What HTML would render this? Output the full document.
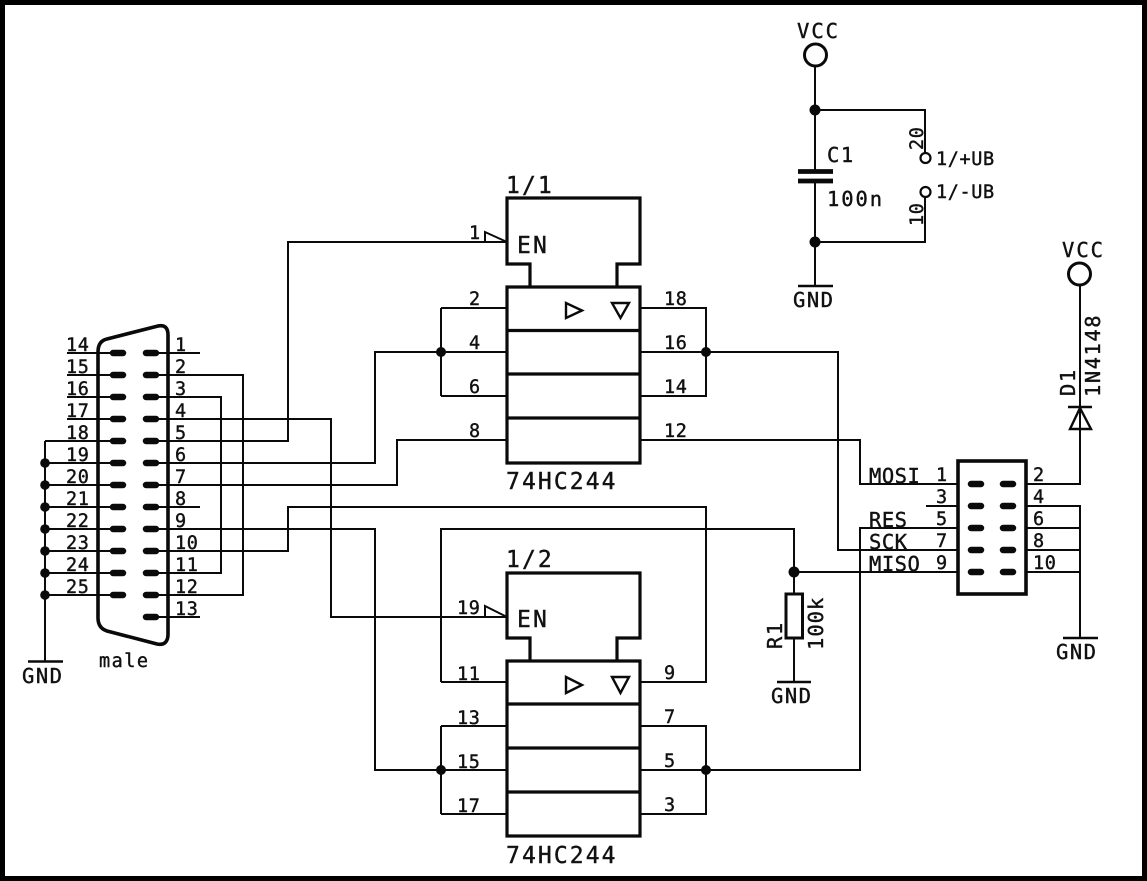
<!DOCTYPE html>
<html><head><meta charset="utf-8"><style>
html,body{margin:0;padding:0;background:#fff}
svg{display:block}
text{font-family:"DejaVu Sans Mono","Liberation Mono",monospace;fill:#111;stroke:#111;stroke-width:.4}
.s{font-size:18.5px;letter-spacing:.6px}
.m{font-size:20.5px;letter-spacing:1.5px}
.l{font-size:23px;letter-spacing:2.1px}
.w{fill:none;stroke:#0a0a0a;stroke-width:2}
.c{fill:none;stroke:#0a0a0a;stroke-width:3.2}
.p{fill:none;stroke:#0a0a0a;stroke-width:6.5;stroke-linecap:round}
.g{fill:none;stroke:#0a0a0a;stroke-width:2.4}
</style></head><body>
<svg width="1147" height="881" viewBox="0 0 1147 881" xmlns="http://www.w3.org/2000/svg">
<rect width="1147" height="881" fill="#fff"/>
<rect x="2.5" y="2.5" width="1142" height="876" fill="none" stroke="#000" stroke-width="5"/>

<!-- D-sub -->
<path class="c" style="stroke-width:3.6" d="M98 352Q98 341 107 339L158 326Q168 324 168 335V634Q168 646 157 644L107 631Q98 628 98 618Z"/>
<path class="p" d="M113 353H123M113 375H123M113 397H123M113 419H123M113 441H123M113 463H123M113 485H123M113 507H123M113 529H123M113 551H123M113 573H123M113 595H123
M146 353H156M146 375H156M146 397H156M146 419H156M146 441H156M146 463H156M146 485H156M146 507H156M146 529H156M146 551H156M146 573H156M146 595H156M146 617H156"/>
<path class="w" d="M67 353H110M67 375H110M67 397H110M67 419H110M45 441H110M45 463H110M45 485H110M45 507H110M45 529H110M45 551H110M45 573H110M45 595H110
M45 441V661M159 353H200M159 507H200M159 617H200"/>
<path class="g" d="M28 661.5H63"/>
<g fill="#0a0a0a"><circle cx="45" cy="463" r="4.800"/><circle cx="45" cy="485" r="4.800"/><circle cx="45" cy="507" r="4.800"/><circle cx="45" cy="529" r="4.800"/><circle cx="45" cy="551" r="4.800"/><circle cx="45" cy="573" r="4.800"/><circle cx="45" cy="595" r="4.800"/>
<circle cx="441" cy="352" r="5"/><circle cx="706" cy="352" r="5"/><circle cx="441" cy="770" r="5"/><circle cx="706" cy="770" r="5"/>
<circle cx="794" cy="572" r="5.500"/><circle cx="815" cy="110" r="5.500"/><circle cx="815" cy="242" r="5.500"/></g>

<!-- wires -->
<path class="w" d="M159 375H243V595H159M159 397H221V573H159M159 419H331V617H507M159 441H288V242H507
M159 463H375V352H507M159 485H397V440H507M159 529H375V770H507M159 551H288V507H706V682H640
M441 682V529H794V638M794 572H958M507 682H441
M441 308H507M441 396H507M441 308V396M640 308H706V396H640M640 352H838V550H958
M640 440H860V484H958M441 726H507M441 814H507M441 726V814M640 726H706V814H640M640 770H860V528H958
M926 506H958M1026 484H1080V285M1026 506H1080V638M1026 528H1080M1026 550H1080M1026 572H1080
M794 638V682M815 66V170M815 181V286M815 110H925V152M815 242H925V198"/>
<path class="w" d="M485 242V232L507 242M485 617V606L507 617"/>

<!-- chips -->
<path class="c" d="M530 287V264H507V198H640V264H617V287M507 287H640V463H507ZM507 330.500H640M507 374H640M507 418H640"/>
<path class="c" d="M530 661V638H507V573H640V638H617V661M507 661H640V836H507ZM507 704H640M507 748H640M507 792H640"/>
<path class="g" d="M566 303V318L582 310.500ZM612 303H629L620.500 318ZM566 677V693L582 685ZM612 677H629L620.500 693Z"/>

<!-- header -->
<rect x="958" y="461" width="68" height="133" class="c" style="stroke-width:3.6"/>
<path class="p" d="M971 484H981M971 506H981M971 528H981M971 550H981M971 572H981M1003 484H1013M1003 506H1013M1003 528H1013M1003 550H1013M1003 572H1013"/>

<!-- passive -->
<circle cx="815.500" cy="55" r="11" fill="#fff" stroke="#0a0a0a" stroke-width="3"/>
<circle cx="1079.500" cy="274" r="11" fill="#fff" stroke="#0a0a0a" stroke-width="3"/>
<circle cx="925.500" cy="158" r="5" fill="#fff" stroke="#0a0a0a" stroke-width="2.200"/>
<circle cx="925.500" cy="192" r="5" fill="#fff" stroke="#0a0a0a" stroke-width="2.200"/>
<path d="M798 171.500H833M798 181H833" fill="none" stroke="#0a0a0a" stroke-width="4.800"/>
<path class="g" d="M798 286H833M777 682H811M1063 638H1098M1068 407H1092M1070 429H1091L1080 408Z"/>
<rect x="786" y="594" width="16.500" height="44" fill="#fff" stroke="#0a0a0a" stroke-width="3"/>

<!-- labels -->
<g class="s">
<text x="66" y="351">14</text><text x="66" y="373">15</text><text x="66" y="395">16</text><text x="66" y="417">17</text><text x="66" y="439">18</text><text x="66" y="461">19</text><text x="66" y="483">20</text><text x="66" y="505">21</text><text x="66" y="527">22</text><text x="66" y="549">23</text><text x="66" y="571">24</text><text x="66" y="593">25</text>
<text x="175" y="351">1</text><text x="175" y="373">2</text><text x="175" y="395">3</text><text x="175" y="417">4</text><text x="175" y="439">5</text><text x="175" y="461">6</text><text x="175" y="483">7</text><text x="175" y="505">8</text><text x="175" y="527">9</text><text x="175" y="549">10</text><text x="175" y="571">11</text><text x="175" y="593">12</text><text x="175" y="615">13</text>
<text x="469" y="239">1</text><text x="469" y="305">2</text><text x="469" y="349">4</text><text x="469" y="393">6</text><text x="469" y="437">8</text>
<text x="664" y="305">18</text><text x="664" y="349">16</text><text x="664" y="393">14</text><text x="664" y="437">12</text>
<text x="457" y="614">19</text><text x="457" y="680">11</text><text x="457" y="724">13</text><text x="457" y="768">15</text><text x="457" y="812">17</text>
<text x="664" y="679">9</text><text x="664" y="723">7</text><text x="664" y="767">5</text><text x="664" y="811">3</text>
<text x="936" y="481">1</text><text x="936" y="503">3</text><text x="936" y="525">5</text><text x="936" y="547">7</text><text x="936" y="569">9</text>
<text x="1033" y="481">2</text><text x="1033" y="503">4</text><text x="1033" y="525">6</text><text x="1033" y="547">8</text><text x="1033" y="569">10</text>
<text x="99" y="667" style="letter-spacing:1.500px">male</text>
<text x="936" y="165">1/+UB</text><text x="936" y="198">1/-UB</text>
<text transform="translate(923,150) rotate(-90)">20</text>
<text transform="translate(923,226) rotate(-90)">10</text>
</g>
<g class="m">
<text x="22" y="683">GND</text><text x="793" y="307">GND</text><text x="771" y="703">GND</text><text x="1056" y="659">GND</text>
<text x="797" y="38" style="letter-spacing:2px">VCC</text><text x="1062" y="257" style="letter-spacing:2px">VCC</text>
<text x="827" y="162">C1</text>
<text x="827" y="206" style="letter-spacing:1.900px">100n</text>
<text x="869" y="483" style="letter-spacing:.5px">MOSI</text>
<text x="869" y="527" style="letter-spacing:.5px">RES</text>
<text x="869" y="549" style="letter-spacing:.5px">SCK</text>
<text x="869" y="571" style="letter-spacing:.5px">MISO</text>
<text transform="translate(782,649) rotate(-90)">R1</text>
<text transform="translate(823,650) rotate(-90)" style="letter-spacing:1px">100k</text>
<text transform="translate(1075,396) rotate(-90)">D1</text>
<text transform="translate(1100,397) rotate(-90)" style="letter-spacing:1.500px">1N4148</text>
</g>
<g class="l">
<text x="506" y="193">1/1</text><text x="506" y="567">1/2</text>
<text x="517" y="253">EN</text><text x="517" y="627">EN</text>
<text x="506" y="489">74HC244</text><text x="506" y="863">74HC244</text>
</g>
</svg>
</body></html>
